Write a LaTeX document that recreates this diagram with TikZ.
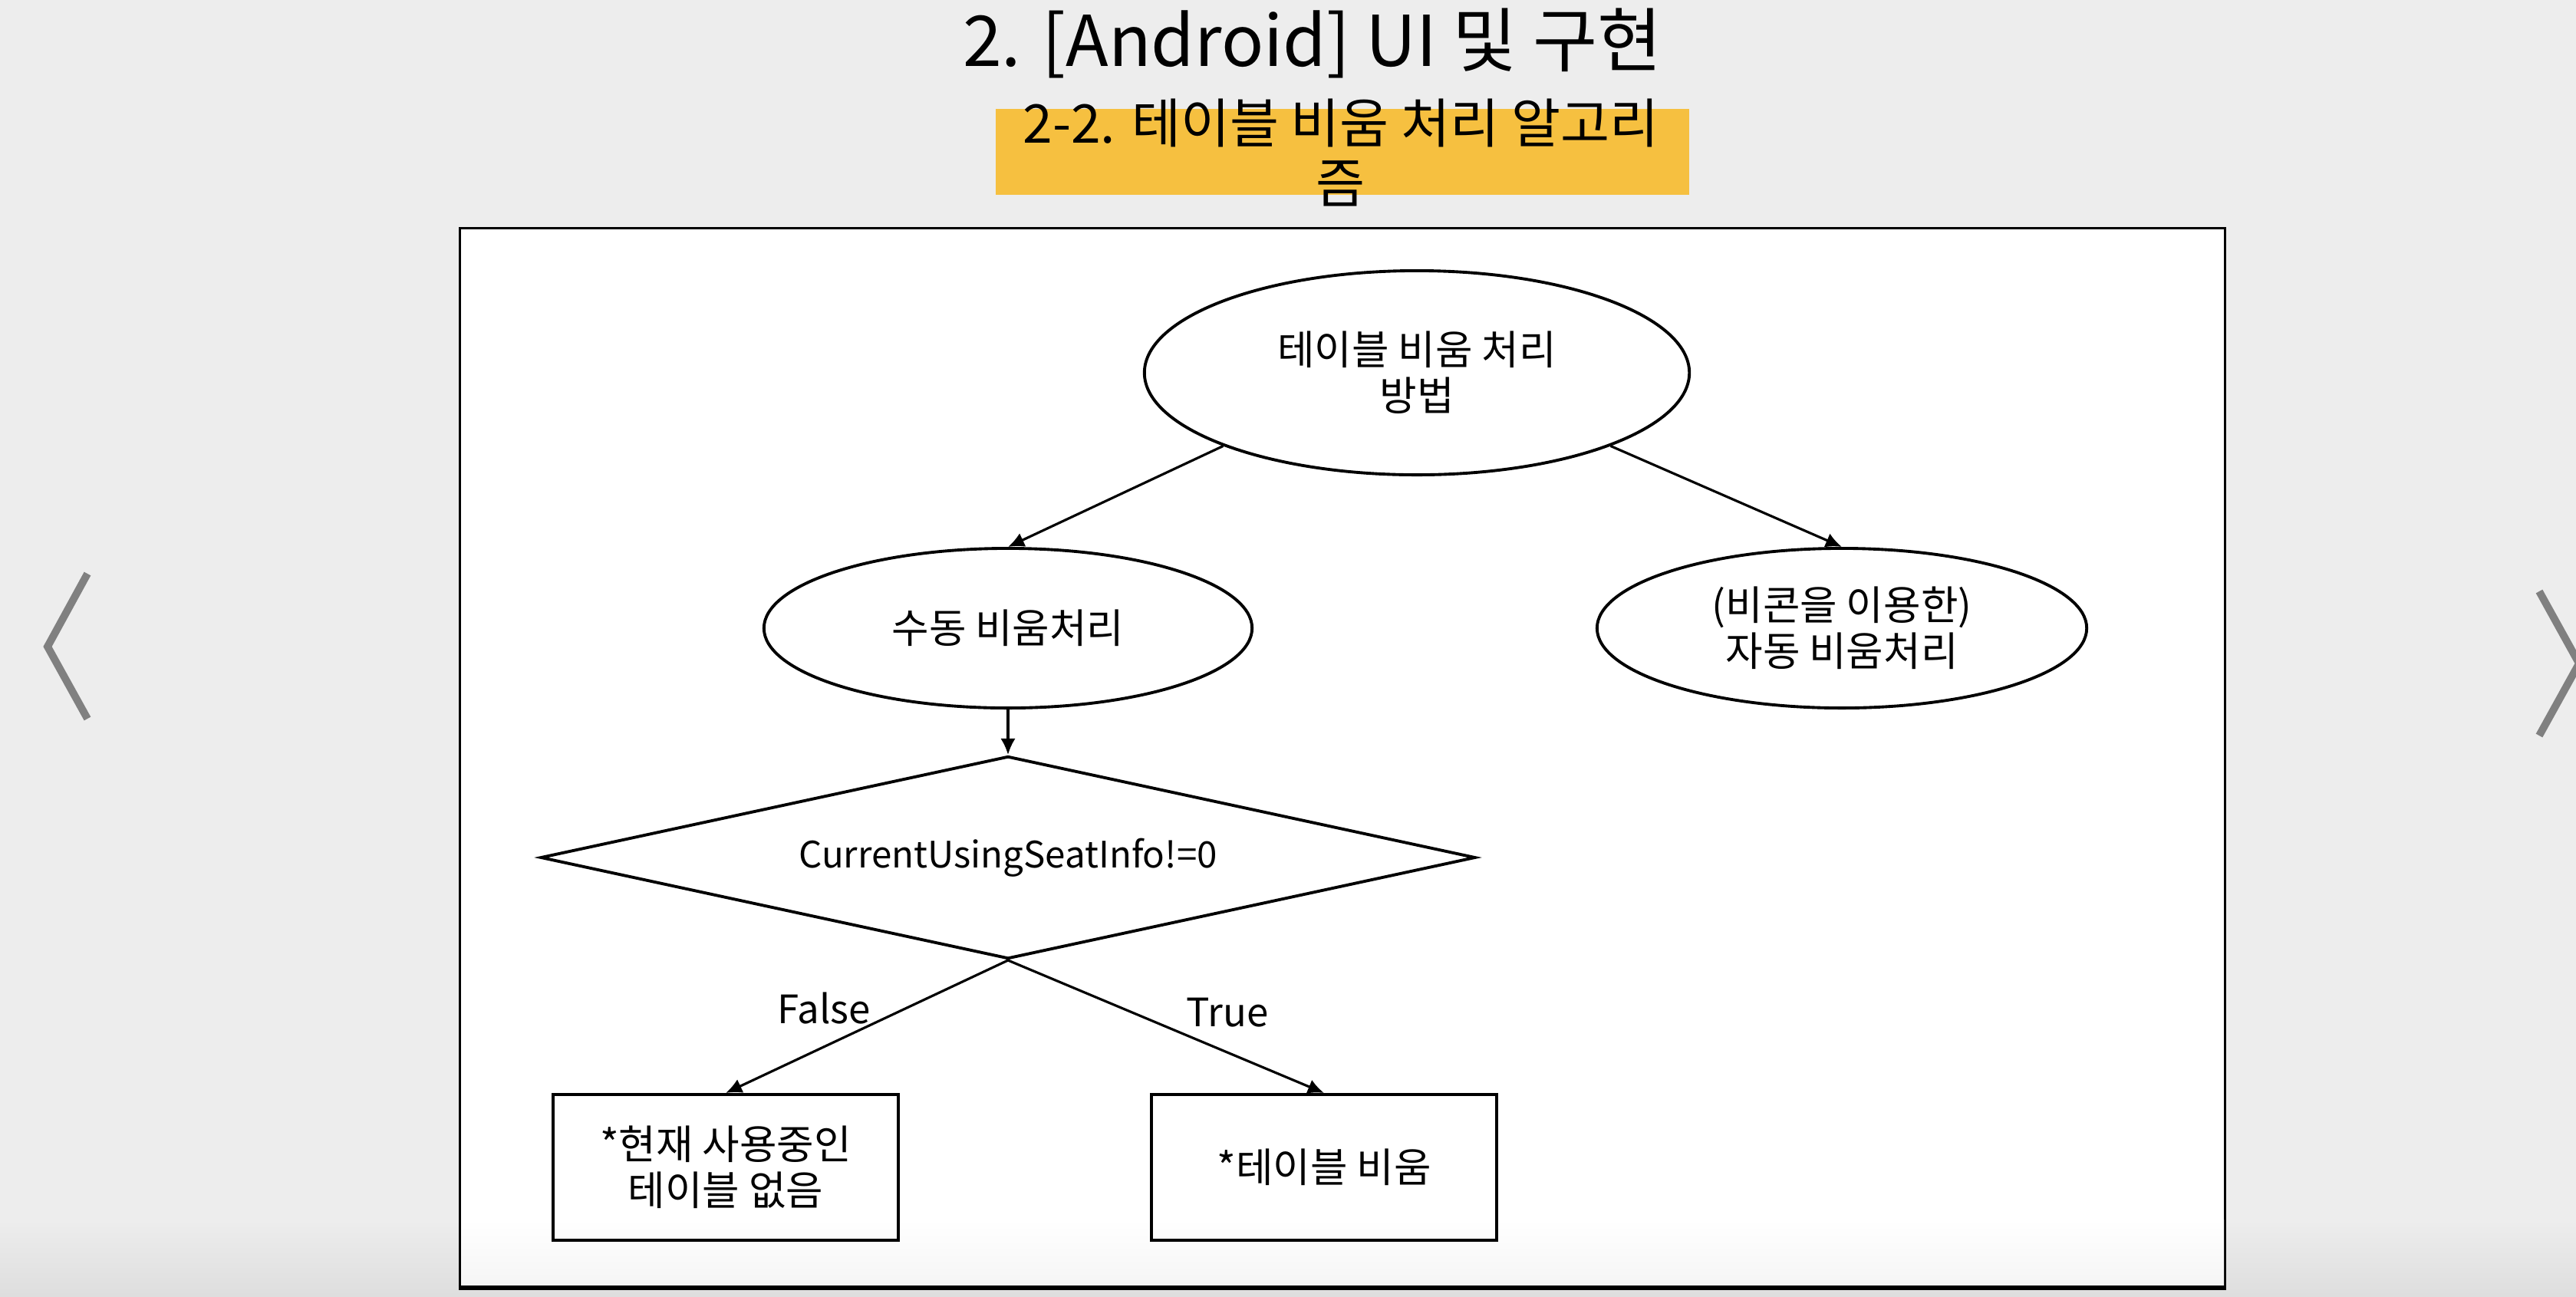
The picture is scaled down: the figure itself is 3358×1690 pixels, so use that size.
\documentclass[tikz,border=0pt]{standalone}
\usepackage{fontspec}
\setmainfont{Noto Sans CJK KR}
\usetikzlibrary{shapes.geometric,arrows.meta}
\definecolor{slidegray}{HTML}{EDEDED}
\definecolor{headyellow}{HTML}{F6C040}
\definecolor{navgray}{HTML}{808080}

\begin{document}
\begin{tikzpicture}[x=0.01cm,y=-0.01cm,
  oval/.style={draw,ellipse,line width=1.1pt,fill=white,align=center,inner sep=0pt,font=\fontsize{15}{17}\selectfont},
  check/.style={draw,diamond,line width=1.1pt,aspect=4.6,inner sep=0pt,minimum width=12.18cm,minimum height=2.64cm,font=\fontsize{13.5}{17}\selectfont},
  result/.style={draw,rectangle,line width=1.1pt,align=center,minimum width=4.5cm,minimum height=1.9cm,font=\fontsize{15}{17}\selectfont},
  branch/.style={font=\fontsize{14.5}{17}\selectfont},
  flow/.style={line width=0.9pt,-{Latex[length=6pt,width=5.5pt]}},
  nav/.style={navgray,line width=2.8pt}]
\useasboundingbox (0,0) rectangle (3358,1690);
\fill[slidegray] (0,0) rectangle (3358,1690);
\shade[top color=slidegray,bottom color=black!13] (0,1590) rectangle (3358,1690);
\draw[nav] (114,748) -- (62,843) -- (114,937);
\draw[nav] (3310,771) -- (3362,865) -- (3310,959);
\node[font=\fontsize{26}{30}\selectfont] (title) at (1711,56) {2. [Android] UI 및 구현};
\node[fill=headyellow,minimum width=9.04cm,minimum height=1.12cm,inner sep=0pt] (subbar) at (1750,198) {};
\node[font=\fontsize{19.8}{22}\selectfont,align=center] (subtitle) at (1748,199) {2-2. 테이블 비움 처리 알고리\\즘};
\node[draw,fill=white,line width=0.8pt,minimum width=23cm,minimum height=13.79cm,inner sep=0pt] (panel) at (1750,987.5) {};
\shade[top color=white,bottom color=black!4] (601,1590) rectangle (2899,1676);
\draw[line width=1.6pt] (panel.south west) -- (panel.south east);
\node[oval,minimum width=7.1cm,minimum height=2.66cm] (method) at (1847,486) {테이블 비움 처리\\방법};
\node[oval,minimum width=6.36cm,minimum height=2.08cm] (manual) at (1314,819) {수동 비움처리};
\node[oval,minimum width=6.38cm,minimum height=2.08cm] (auto) at (2401,819) {(비콘을 이용한)\\자동 비움처리};
\node[check] (seatcheck) at (1314,1118) {CurrentUsingSeatInfo!=0};
\node[result] (noseat) at (946,1522) {*현재 사용중인\\테이블 없음};
\node[result] (emptied) at (1726,1522) {*테이블 비움};
\node[branch] (falselbl) at (1074,1315) {False};
\node[branch] (truelbl) at (1600,1320) {True};
\draw[flow] (method.south west) -- (manual.north);
\draw[flow] (method.south east) -- (auto.north);
\draw[flow] (manual.south) -- (seatcheck.north);
\draw[flow] (seatcheck.south) -- (noseat.north);
\draw[flow] (seatcheck.south) -- (emptied.north);
\end{tikzpicture}
\end{document}
